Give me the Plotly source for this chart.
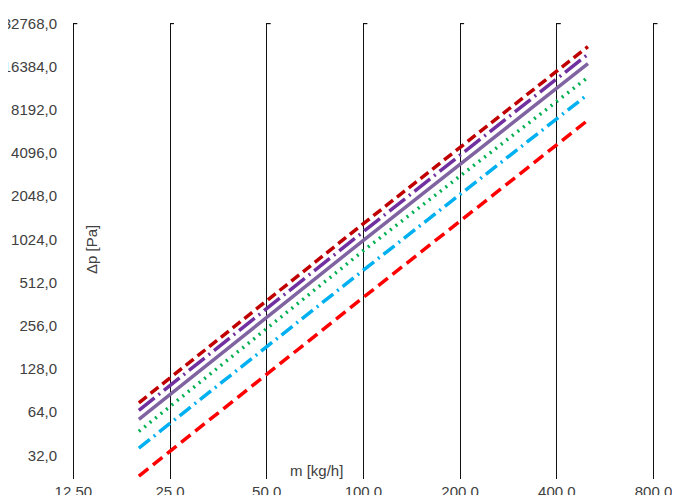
import math
import plotly.graph_objects as go

# Data
mass_flow = [20, 100, 500]  # m [kg/h]
series_dark_red = [74.5, 1320, 22600]
series_dark_purple = [66, 1160, 20000]
series_purple = [57, 1010, 17200]
series_green = [47, 855, 13800]
series_cyan = [36, 626, 10500]
series_red = [23, 404, 6940]

x_ticks = [12.5, 25, 50, 100, 200, 400, 800]
x_ticktext = ["12,50", "25,0", "50,0", "100,0", "200,0", "400,0", "800,0"]
y_ticks = [32, 64, 128, 256, 512, 1024, 2048, 4096, 8192, 16384, 32768]
y_ticktext = [f"{v},0" for v in y_ticks]

styles = [
    (series_dark_red, "#C00000", "10px,5px"),
    (series_dark_purple, "#7030A0", "20px,5px,2px,5px"),
    (series_purple, "#8064A2", "solid"),
    (series_green, "#00B050", "2px,5px"),
    (series_cyan, "#00B0F0", "14px,5px,2px,5px"),
    (series_red, "#FF0000", "12px,6px"),
]

fig = go.Figure()
for i, (vals, col, dash) in enumerate(styles):
    fig.add_trace(go.Scatter(
        x=mass_flow, y=vals, mode="lines", name=f"Series {i+1}",
        line=dict(color=col, width=3.5, dash=dash),
        showlegend=False, hoverinfo="skip",
    ))

OFF = 8  # page body offset
W, H = 680, 495
px_per_oct_x = 96.7
l_margin, r_margin = 58, 24
plot_w = W - l_margin - r_margin
x_left_log2 = math.log2(12.5) - (73.3 - OFF - l_margin) / px_per_oct_x
x_right_log2 = x_left_log2 + plot_w / px_per_oct_x
x_range = [x_left_log2 * math.log10(2), x_right_log2 * math.log10(2)]

t_margin, b_margin = 15, 24
plot_h = H - t_margin - b_margin
px_per_oct_y = 43.2
y_top_log2 = math.log2(32768) + 0.01
y_bot_log2 = y_top_log2 - plot_h / px_per_oct_y
y_range = [y_bot_log2 * math.log10(2), y_top_log2 * math.log10(2)]

font_family = "Liberation Sans, Arial, sans-serif"
fig.update_layout(
    template="none",
    width=W, height=H,
    margin=dict(l=l_margin, r=r_margin, t=t_margin, b=b_margin),
    paper_bgcolor="white", plot_bgcolor="white",
    font=dict(family=font_family, size=15, color="#404040"),
    xaxis=dict(
        type="log", range=x_range, tickvals=x_ticks, ticktext=x_ticktext,
        showgrid=True, gridcolor="#111111", gridwidth=1.3,
        showline=False, zeroline=False, ticks="", automargin=False,
        tickfont=dict(size=15, color="#404040"), ticklabelstandoff=2,
    ),
    yaxis=dict(
        type="log", range=y_range, tickvals=y_ticks, ticktext=y_ticktext,
        showgrid=False, showline=False, zeroline=False, ticks="",
        automargin=False, tickfont=dict(size=15, color="#404040"),
        ticklabelstandoff=8,
    ),
)

# caps at the top of each vertical gridline
for xv in x_ticks:
    fig.add_shape(type="line", xref="x", yref="y", xsizemode="pixel",
                  xanchor=xv, x0=-4, x1=4, y0=32768, y1=32768,
                  line=dict(color="#111111", width=1.5))

plot_top = t_margin + OFF
plot_bottom = plot_top + plot_h
fig.add_annotation(text="Δp [Pa]", xref="paper", yref="paper",
                   x=(91 - OFF - l_margin) / plot_w,
                   y=(plot_bottom - 250) / plot_h,
                   textangle=-90, showarrow=False,
                   font=dict(size=15, color="#404040"),
                   xanchor="center", yanchor="middle")
fig.add_annotation(text="m [kg/h]", xref="paper", yref="paper",
                   x=(316 - OFF - l_margin) / plot_w,
                   y=(plot_bottom - 470) / plot_h,
                   showarrow=False, font=dict(size=15, color="#404040"),
                   xanchor="center", yanchor="middle")

fig.write_html("out.html")
